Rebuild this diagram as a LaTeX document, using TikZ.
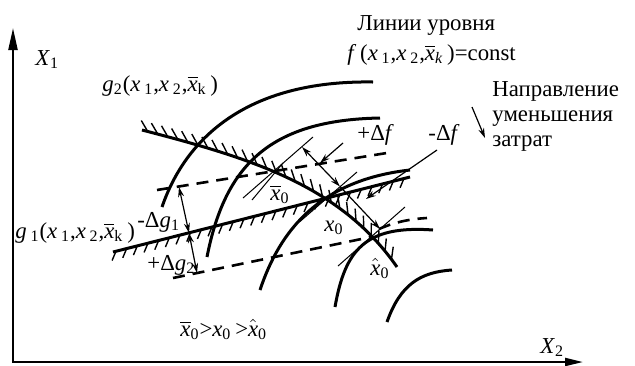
\documentclass[tikz,border=0pt]{standalone}
\usepackage{fontspec}
\setmainfont{Liberation Serif}
\usepackage{tikz}
\usetikzlibrary{arrows.meta,positioning,decorations.markings}
\newcommand{\xbar}{$\overline{\mbox{\textit{x}}}$}
\newcommand{\xhat}{$\hat{\mbox{\textit{x}}}$}
\newcommand{\sbs}[1]{\textsubscript{#1}}

\begin{document}
\begin{tikzpicture}[
   x=0.5pt, y=-0.5pt,
   lbl/.style={inner sep=0pt, anchor=base west, font=\fontsize{11.4}{12.5}\selectfont},
   axisln/.style={line width=1.1pt, {Triangle[length=11pt,width=4.5pt]}-{Triangle[length=9pt,width=4pt]}},
   lvlcurve/.style={line width=1.5pt},
   dashln/.style={line width=1.3pt, dash pattern=on 6pt off 4pt},
   thinl/.style={line width=0.5pt},
   dimarr/.style={line width=0.6pt, {Stealth[length=5pt,width=3pt]}-{Stealth[length=5pt,width=3pt]}},
   leader/.style={line width=0.6pt, -{Stealth[length=5pt,width=3pt]}},
   hatchbelow/.style={line width=1.5pt, postaction={decorate},
      decoration={markings, mark=between positions 0.01 and 1 step 5.5pt with {\draw[line width=0.7pt] (0,0) -- (-3pt,-4pt);}}},
   hatchabove/.style={line width=1.5pt, postaction={decorate},
      decoration={markings, mark=between positions 0.02 and 1 step 5.2pt with {\draw[line width=0.7pt] (0,0) -- (-4.5pt,4.5pt);}}}
]
\useasboundingbox (0,0) rectangle (635,365);

% axes
\coordinate (O) at (13,362);
\coordinate (ytip) at (13,28);
\coordinate (xtip) at (583,362);
\draw[axisln] (ytip) -- (O) -- (xtip);

% optimum points
\coordinate (xb0) at (275,170);
\coordinate (x0) at (327,198);
\coordinate (xh0) at (371,237);

% level lines of f
\draw[lvlcurve] (162,207) .. controls (185,140) and (245,80) .. (373,82);
\draw[lvlcurve] (207,257) .. controls (225,165) and (270,120) .. (380,118);
\draw[lvlcurve] (260,290) .. controls (280,230) and (320,180) .. (410,170);
\draw[lvlcurve] (335,307) .. controls (345,250) and (365,225) .. (433,230);
\draw[lvlcurve] (387,322) .. controls (400,285) and (420,272) .. (452,270);

% constraints g1, g2
\draw[hatchbelow] (113,252) -- (410,177);
\draw[hatchabove] (142,130) .. controls (250,158) and (340,185) .. (397,267);

% shifted constraints
\draw[dashln] (157,190) -- (393,152);
\draw[dashln] (173,278) -- (xh0);
\draw[dashln] (379,229) .. controls (395,222) and (410,219) .. (427,218);

% tangents
\draw[thinl] (243,198) -- (313,137);
\draw[thinl] (252,200) -- (283,163);
\draw[thinl] (300,221.5) -- (357,172);
\draw[thinl] (338,266) -- (405,207);

% delta f
\coordinate (nf1) at (302,147);
\coordinate (nf2) at (340,186.5);
\coordinate (nf3) at (380,229);
\draw[dimarr] (nf1) -- (nf2);
\draw[leader] (nf2) -- (nf3);

% delta g
\coordinate (dg1) at (179,187);
\coordinate (dg2) at (189,233);
\coordinate (dg3) at (197,273);
\draw[dimarr] (dg1) -- (dg2);
\draw[dimarr] (dg2) -- (dg3);

% labels
\node[lbl] (X1) at (35,65) {\textit{X}\sbs{1}};
\node[lbl] (X2) at (540,353) {\textit{X}\sbs{2}};
\node[lbl] (g2) at (102,91) {\textit{g}\sbs{2}(\textit{x}\,\sbs{1},\textit{x}\,\sbs{2},\xbar\sbs{k}\,)};
\node[lbl] (g1) at (15,238) {\textit{g}\,\sbs{1}(\textit{x}\,\sbs{1},\textit{x}\,\sbs{2},\xbar\sbs{k}\,)};
\node[lbl] (mdg) at (137,227) {-Δ\textit{g}\sbs{1}};
\node[lbl] (pdg) at (147,270) {+Δ\textit{g}\sbs{2}};
\node[lbl] (lxb) at (270,200) {\xbar\sbs{0}};
\node[lbl] (lx) at (324,231) {\textit{x}\sbs{0}};
\node[lbl] (lxh) at (370,275) {\xhat\sbs{0}};
\node[lbl] (ineq) at (180,336) {\xbar\sbs{0}>\textit{x}\sbs{0}\,>\xhat\sbs{0}};
\node[lbl] (pdf) at (357,140) {+Δ\textit{f}};
\node[lbl] (mdf) at (428,140) {-Δ\textit{f}};
\node[lbl] (lvl) at (357,30) {Линии уровня};
\node[lbl] (fconst) at (347,60) {\textit{f}\,(\textit{x}\,\sbs{1},\textit{x}\,\sbs{2},\xbar\sbs{\textit{k}}\,)=const};
\node[lbl] (dir1) at (492,96) {Направление};
\node[lbl] (dir2) at ([yshift=-12.5pt]dir1.base west) {уменьшения};
\node[lbl] (dir3) at ([yshift=-12.5pt]dir2.base west) {затрат};

% leaders
\coordinate (pdfs) at (343,143);
\coordinate (pdfe) at (320,163);
\coordinate (mdfs) at (437,150);
\coordinate (mdfe) at (366,199);
\coordinate (dirs) at (472,107);
\coordinate (dire) at (485,138);
\draw[leader] (pdfs) -- (pdfe);
\draw[leader] (mdfs) -- (mdfe);
\draw[leader] (dirs) -- (dire);
\end{tikzpicture}
\end{document}
